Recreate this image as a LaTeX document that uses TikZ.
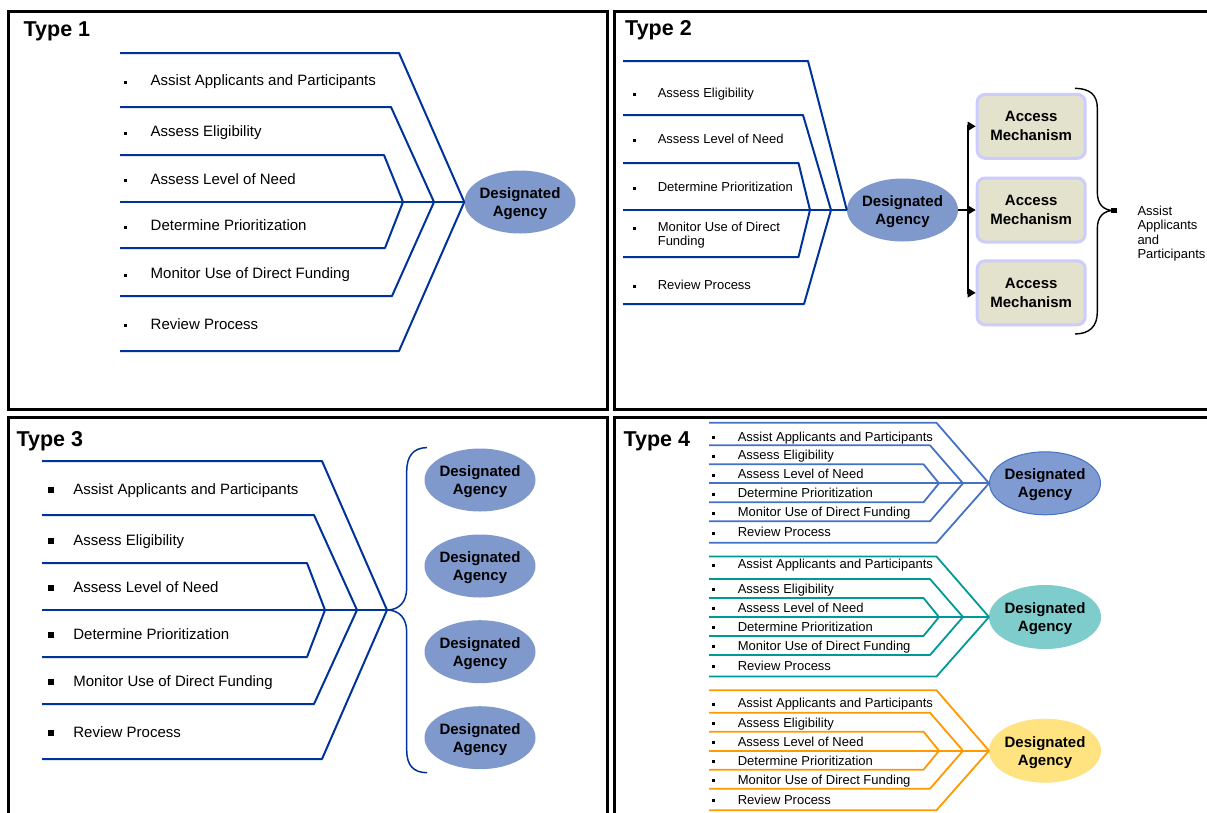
\documentclass[tikz,border=0pt]{standalone}
\usepackage{fontspec}
\setmainfont{Liberation Sans}
\usetikzlibrary{shapes.geometric,arrows.meta}

\definecolor{navy}{RGB}{0,51,153}
\definecolor{agfill}{RGB}{127,153,204}
\definecolor{amfill}{RGB}{227,226,204}
\definecolor{amedge}{RGB}{204,204,255}
\definecolor{t4blue}{RGB}{68,114,196}
\definecolor{t4bluefill}{RGB}{127,155,210}
\definecolor{t4teal}{RGB}{0,153,153}
\definecolor{t4tealfill}{RGB}{127,204,204}
\definecolor{t4orange}{RGB}{255,153,0}
\definecolor{t4yellow}{RGB}{255,227,128}

\tikzset{
  panel/.style={draw=black, line width=3pt},
  hdr/.style={anchor=base west, inner sep=0pt, font=\bfseries\fontsize{21.5}{24}\selectfont},
  fish/.style={draw=navy, line width=2pt, line join=round},
  fishfour/.style={draw=#1, line width=1.8pt, line join=round},
  item/.style={anchor=base west, inner sep=0pt, font=\fontsize{15}{17}\selectfont},
  smitem/.style={anchor=base west, inner sep=0pt, font=\fontsize{13}{14}\selectfont},
  agency/.style={ellipse, fill=agfill, minimum width=111pt, minimum height=63pt, inner sep=0pt},
  agtext/.style={align=center, inner sep=0pt, yshift=-1.5pt, font=\bfseries\fontsize{15}{18}\selectfont},
  ambox/.style={rounded corners=8pt, draw=amedge, fill=amfill, line width=3pt,
    minimum width=108pt, minimum height=64pt, inner sep=0pt, align=center,
    font=\bfseries\fontsize{15}{19}\selectfont},
  conn/.style={draw=black, line width=2.2pt},
  brace/.style={draw=black, line width=1.4pt},
}

% bullets for the four panels
\newcommand{\bulA}{\rule[2pt]{3pt}{3pt}\hspace{23.5pt}}
\newcommand{\bulB}{\rule[2pt]{3pt}{3pt}\hspace{21.8pt}}
\newcommand{\bulC}{\rule[1.5pt]{6pt}{6pt}\hspace{19.7pt}}
\newcommand{\bulD}{\rule[2pt]{3pt}{3pt}\hspace{22.6pt}}

% one coloured fishbone group of the fourth panel
% #1 line colour, #2 centre y, #3 fill, #4 ellipse edge, #5 name, #6 first row offset
\newcommand{\fourgroup}[6]{%
  \node[agency, fill=#3, draw=#4, line width=1pt] (#5) at (1045,#2) {};
  \node[agtext] (#5t) at (#5.center) {Designated\\Agency};
  \draw[fishfour=#1] (709,{#2-60.5}) -- (936.5,{#2-60.5}) -- (#5.west) -- (936.5,{#2+59.5}) -- (709,{#2+59.5});
  \draw[fishfour=#1] (709,{#2-38}) -- (930,{#2-38}) -- (963,#2) -- (930,{#2+38}) -- (709,{#2+38});
  \draw[fishfour=#1] (709,{#2-19}) -- (923.5,{#2-19}) -- (939,#2) -- (923.5,{#2+19}) -- (709,{#2+19});
  \draw[fishfour=#1] (709,#2) -- (#5.west);
  \node[smitem] (#5a) at (712,{#2+#6+4.8}) {\bulD Assist Applicants and Participants};
  \node[smitem] (#5b) at (712,{#2-28.5+4.8}) {\bulD Assess Eligibility};
  \node[smitem] (#5c) at (712,{#2-9.5+4.8}) {\bulD Assess Level of Need};
  \node[smitem] (#5d) at (712,{#2+9.5+4.8}) {\bulD Determine Prioritization};
  \node[smitem] (#5e) at (712,{#2+28.5+4.8}) {\bulD Monitor Use of Direct Funding};
  \node[smitem] (#5f) at (712,{#2+48.5+4.8}) {\bulD Review Process};
}

\begin{document}
\begin{tikzpicture}[x=1pt,y=-1pt]
\clip (0,0) rectangle (1207,812);
\fill[white] (0,0) rectangle (1207,812);

% panel frames
\draw[panel] (8,11.5) rectangle (607.5,409.5);
\draw[panel] (614.5,11.5) rectangle (1230,409.5);
\draw[panel] (8,417) rectangle (607.5,830);
\draw[panel] (614.5,417) rectangle (1230,830);

% ---------------- Type 1
\node[hdr] (h1) at (23.5,36.5) {Type 1};
\node[agency] (ag1) at (520,202) {};
\node[agtext] (ag1t) at (ag1.center) {Designated\\Agency};
\draw[fish] (120,53) -- (399,53) -- (ag1.west) -- (399,351) -- (120,351);
\draw[fish] (120,107) -- (391,107) -- (434,202) -- (392,296) -- (120,296);
\draw[fish] (120,155) -- (384,155) -- (403,202) -- (385,248) -- (120,248);
\draw[fish] (120,202) -- (ag1.west);
\node[item] (t1a) at (124,85.6) {\bulA Assist Applicants and Participants};
\node[item] (t1b) at (124,136.6) {\bulA Assess Eligibility};
\node[item] (t1c) at (124,184.1) {\bulA Assess Level of Need};
\node[item] (t1d) at (124,230.6) {\bulA Determine Prioritization};
\node[item] (t1e) at (124,278.6) {\bulA Monitor Use of Direct Funding};
\node[item] (t1f) at (124,329.1) {\bulA Review Process};

% ---------------- Type 2
\node[hdr] (h2) at (625,35.5) {Type 2};
\node[agency] (ag2) at (902.5,210) {};
\node[agtext] (ag2t) at (ag2.center) {Designated\\Agency};
\draw[fish] (623,61) -- (808,61) -- (ag2.west);
\draw[fish] (623,115) -- (803,115) -- (831,210) -- (804,304) -- (623,304);
\draw[fish] (623,163) -- (798.5,163) -- (810,210) -- (798.5,257) -- (623,257);
\draw[fish] (623,210) -- (ag2.west);
\node[smitem] (t2b) at (632.8,97.8) {\bulB Assess Eligibility};
\node[smitem] (t2c) at (632.8,143.8) {\bulB Assess Level of Need};
\node[smitem] (t2d) at (632.8,191.8) {\bulB Determine Prioritization};
\node[smitem, anchor=north west, align=left] (t2e) at (632.8,222.2) {\bulB Monitor Use of Direct\\\hspace*{24.8pt}Funding};
\node[smitem] (t2f) at (632.8,289.8) {\bulB Review Process};

\node[ambox] (am1) at (1031.2,126.3) {Access\\Mechanism};
\node[ambox] (am2) at (1031.2,210) {Access\\Mechanism};
\node[ambox] (am3) at (1031.2,292.8) {Access\\Mechanism};
\coordinate (split) at (968,210);
\draw[conn] (ag2.east) -- (split);
\draw[conn, -{Triangle[length=8pt,width=9pt]}] (split) |- (am1.west);
\draw[conn, -{Triangle[length=8pt,width=9pt]}] (split) -- (am2.west);
\draw[conn, -{Triangle[length=8pt,width=9pt]}] (split) |- (am3.west);

\draw[brace] (1075,88.3) .. controls (1090,88.5) and (1097.3,95) .. (1097.3,108)
  -- (1097.3,192) .. controls (1097.3,204) and (1103,210.5) .. (1114,210.5)
  .. controls (1103,210.5) and (1097.3,217) .. (1097.3,229)
  -- (1097.3,312) .. controls (1097.3,326) and (1090,333.8) .. (1075,334);
\node[fill=black, minimum size=5.5pt, inner sep=0pt] (tip2) at (1114,210.5) {};
\node[smitem, anchor=north west, align=left, font=\fontsize{13}{14.4}\selectfont] (aap) at (1137.3,205.6) {Assist\\Applicants\\and\\Participants};

% ---------------- Type 3
\node[hdr] (h3) at (16.3,446) {Type 3};
\draw[fish] (42,461) -- (322,461) -- (387,610) -- (322,759) -- (42,759);
\draw[fish] (42,515) -- (314,515) -- (357,610) -- (314,704) -- (42,704);
\draw[fish] (42,563) -- (307,563) -- (325,610) -- (307,657) -- (42,657);
\coordinate (hub3) at (387,610);
\draw[fish] (42,610) -- (hub3);
\draw[draw=navy, line width=1.5pt] (427,447.5) .. controls (413,448) and (406.7,456) .. (406.7,472)
  -- (406.7,588) .. controls (406.7,602) and (399,610) .. (hub3)
  .. controls (399,610) and (406.7,618) .. (406.7,632)
  -- (406.7,750) .. controls (406.7,765) and (413,772.5) .. (427,772.7);
\node[item] (t3a) at (47.5,494.8) {\bulC Assist Applicants and Participants};
\node[item] (t3b) at (47.5,545.8) {\bulC Assess Eligibility};
\node[item] (t3c) at (47.5,592.8) {\bulC Assess Level of Need};
\node[item] (t3d) at (47.5,639.8) {\bulC Determine Prioritization};
\node[item] (t3e) at (47.5,686.8) {\bulC Monitor Use of Direct Funding};
\node[item] (t3f) at (47.5,737.8) {\bulC Review Process};
\node[agency] (ag3a) at (480,480) {};
\node[agtext] (ag3at) at (ag3a.center) {Designated\\Agency};
\node[agency] (ag3b) at (480,566) {};
\node[agtext] (ag3bt) at (ag3b.center) {Designated\\Agency};
\node[agency] (ag3c) at (480,651.7) {};
\node[agtext] (ag3ct) at (ag3c.center) {Designated\\Agency};
\node[agency] (ag3d) at (480,737.7) {};
\node[agtext] (ag3dt) at (ag3d.center) {Designated\\Agency};

% ---------------- Type 4
\node[hdr] (h4) at (623.3,446.5) {Type 4};
\fourgroup{t4blue}{483.3}{t4bluefill}{t4blue}{gb}{-47}
\fourgroup{t4teal}{617}{t4tealfill}{t4tealfill}{gt}{-53}
\fourgroup{t4orange}{750.7}{t4yellow}{t4yellow}{go}{-48}

\end{tikzpicture}
\end{document}
